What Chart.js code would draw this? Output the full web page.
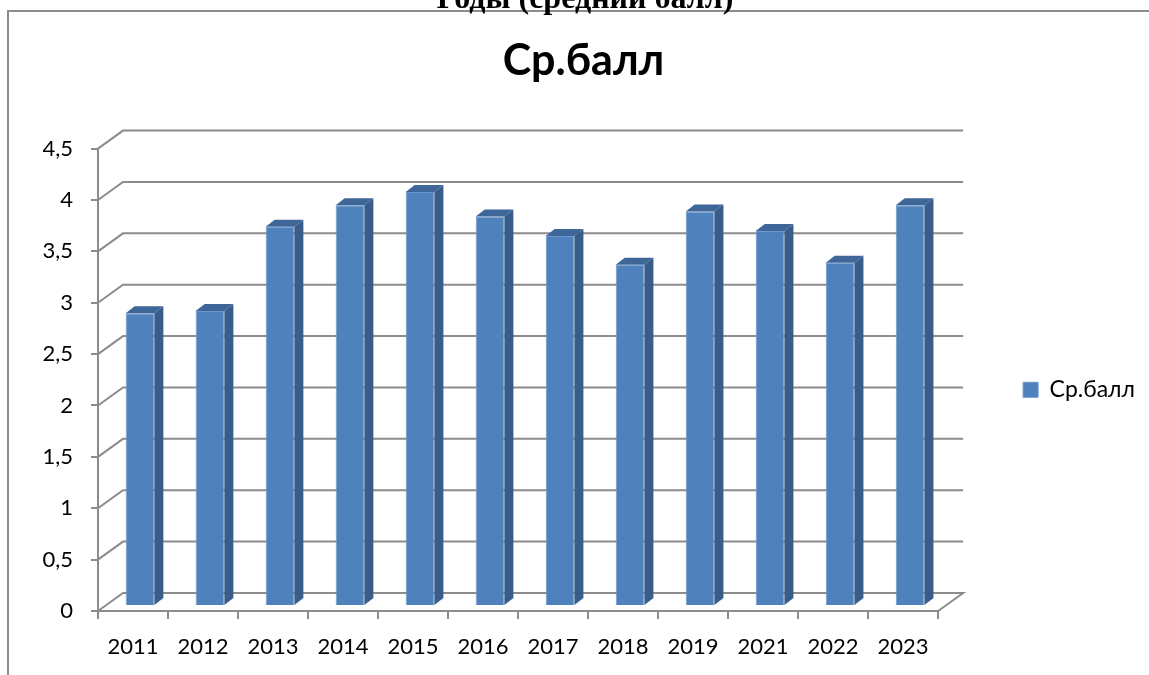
<!DOCTYPE html>
<html lang="ru">
<head>
<meta charset="utf-8">
<title>Ср.балл</title>
<script src="https://cdn.jsdelivr.net/npm/chart.js@4.4.1/dist/chart.umd.min.js"></script>
<style>
  html, body { margin: 0; padding: 0; background: #fff; }
</style>
</head>
<body>
<canvas id="myChart" width="1149" height="675"></canvas>
<script>
const years = ["2011", "2012", "2013", "2014", "2015", "2016", "2017", "2018", "2019", "2021", "2022", "2023"];
const avgScore = [2.85, 2.87, 3.69, 3.9, 4.03, 3.79, 3.6, 3.32, 3.84, 3.65, 3.34, 3.9];
const yTicks = [0, 0.5, 1, 1.5, 2, 2.5, 3, 3.5, 4, 4.5];

const GRID = "#8c8c8c";
const FRONT = "#4f81bd";
const SIDE = "#385d8a";
const TOP = "#3e6699";
const FONT = "Lato, 'Noto Sans', sans-serif";

// back wall offset and bar depth (3d look)
const wallX = 25, wallY = 18;
const barShiftX = 7, barShiftY = 5;
const depthX = 9, depthY = 7;

const pagePlugin = {
  id: "page",
  beforeDraw(chart) {
    const c = chart.ctx;
    c.save();
    c.fillStyle = "#fff";
    c.fillRect(0, 0, chart.width, chart.height);
    c.strokeStyle = GRID;
    c.lineWidth = 2;
    c.beginPath();
    c.moveTo(8, chart.height);
    c.lineTo(8, 11);
    c.lineTo(chart.width, 11);
    c.stroke();
    // heading of the document, cut by the top edge
    c.fillStyle = "#000";
    c.font = "bold 32px 'Liberation Serif', serif";
    c.textAlign = "center";
    c.textBaseline = "alphabetic";
    c.fillText("Годы (средний балл)", 585, 8);
    c.restore();
  },
};

const wallPlugin = {
  id: "wall",
  beforeDatasetsDraw(chart) {
    const { ctx: c, chartArea: a, scales: { y } } = chart;
    c.save();
    c.strokeStyle = GRID;
    c.lineWidth = 2;
    y.ticks.forEach((t) => {
      const py = y.getPixelForValue(t.value);
      c.beginPath();
      c.moveTo(a.left, py);
      c.lineTo(a.left + wallX, py - wallY);
      c.lineTo(a.right + wallX, py - wallY);
      if (t.value === 0) c.lineTo(a.right, py);
      c.stroke();
    });
    c.restore();
  },
};

const barsPlugin = {
  id: "bars3d",
  beforeDatasetsDraw(chart) {
    chart.ctx.save();
    chart.ctx.translate(barShiftX, -barShiftY);
  },
  afterDatasetsDraw(chart) {
    const c = chart.ctx;
    chart.getDatasetMeta(0).data.forEach((bar) => {
      const { x, y, base, width } = bar.getProps(["x", "y", "base", "width"], true);
      const l = x - width / 2;
      const r = x + width / 2;
      c.fillStyle = SIDE;
      c.beginPath();
      c.moveTo(r, y);
      c.lineTo(r + depthX, y - depthY);
      c.lineTo(r + depthX, base - depthY);
      c.lineTo(r, base);
      c.closePath();
      c.fill();
      c.fillStyle = TOP;
      c.beginPath();
      c.moveTo(l, y);
      c.lineTo(l + depthX, y - depthY);
      c.lineTo(r + depthX, y - depthY);
      c.lineTo(r, y);
      c.closePath();
      c.fill();
    });
    c.restore();
  },
};

new Chart(document.getElementById("myChart").getContext("2d"), {
  type: "bar",
  data: {
    labels: years,
    datasets: [
      {
        label: "Ср.балл",
        data: avgScore,
        backgroundColor: FRONT,
        borderColor: "#6d97cc",
        borderWidth: 1,
        barPercentage: 0.41,
        categoryPercentage: 1,
        clip: false,
      },
    ],
  },
  plugins: [pagePlugin, wallPlugin, barsPlugin],
  options: {
    responsive: false,
    animation: false,
    layout: {
      padding: { left: 22, right: 4, top: 0, bottom: 0 },
    },
    plugins: {
      title: {
        display: true,
        text: "Ср.балл",
        color: "#000",
        font: { family: FONT, size: 43, weight: "bold" },
        padding: { top: 35, bottom: 62 },
      },
      legend: {
        position: "right",
        fullSize: false,
        // empty title only pushes the item a bit lower
        title: {
          display: true,
          text: "",
          font: { size: 10 },
          padding: 4,
        },
        labels: {
          boxWidth: 15,
          boxHeight: 15,
          padding: 85,
          color: "#000",
          font: { family: FONT, size: 23 },
        },
      },
      tooltip: { enabled: false },
    },
    scales: {
      x: {
        grid: {
          drawOnChartArea: false,
          color: GRID,
          lineWidth: 2,
          tickLength: 8,
        },
        border: { color: GRID, width: 2 },
        ticks: {
          color: "#000",
          font: { family: FONT, size: 22 },
          padding: 15,
          maxRotation: 0,
        },
        afterFit(s) {
          s.height = 64;
        },
      },
      y: {
        min: 0,
        max: 4.5,
        afterBuildTicks(s) {
          s.ticks = yTicks.map((v) => ({ value: v }));
        },
        grid: {
          drawOnChartArea: false,
          color: GRID,
          lineWidth: 2,
          tickLength: 7,
        },
        border: { color: GRID, width: 2 },
        ticks: {
          color: "#000",
          font: { family: FONT, size: 22 },
          padding: 18,
          callback: (v) => String(v).replace(".", ","),
        },
        afterFit(s) {
          s.width = 76;
        },
      },
    },
  },
});
</script>
</body>
</html>
